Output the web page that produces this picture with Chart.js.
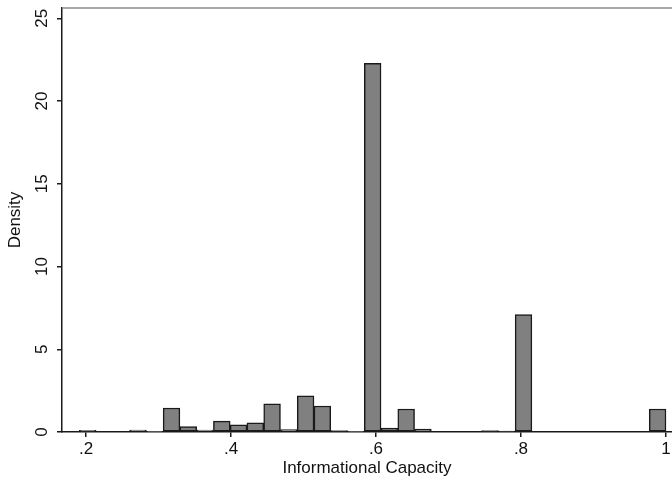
<!DOCTYPE html>
<html>
<head>
<meta charset="utf-8">
<script src="https://cdn.jsdelivr.net/npm/chart.js@4.4.1/dist/chart.umd.min.js"></script>
<style>
  html, body { margin: 0; padding: 0; background: #fff; }
  #wrap { width: 672px; height: 485px; }
</style>
</head>
<body>
<div id="wrap"><canvas id="hist"></canvas></div>
<script>
// histogram bins: first bin start and width, then density per bin (null = empty bin)
const binStart = 0.1908;
const binWidth = 0.02312;
const density = [
  0.1, null, null, 0.12, 0.03, 1.45, 0.32, 0.12, 0.66, 0.44,
  0.56, 1.7, 0.14, 2.19, 1.57, 0.08, 0.03, 22.27, 0.24, 1.39,
  0.17, null, null, null, 0.08, 0.05, 7.1, null, null, null,
  null, null, null, null, 1.39
];
const xTicks = [0.2, 0.4, 0.6, 0.8, 1];
const yTicks = [0, 5, 10, 15, 20, 25];

const fontFamily = '"Liberation Sans", Arial, sans-serif';

function xTickLabel(value) {
  return value === 1 ? '1' : value.toFixed(1).replace(/^0/, '');
}

const points = density.map((d, i) => ({ x: binStart + binWidth * (i + 0.5), y: d }));

const topBorder = {
  id: 'topBorder',
  afterDraw(chart) {
    const { ctx, chartArea } = chart;
    ctx.save();
    ctx.strokeStyle = '#8a8a8a';
    ctx.lineWidth = 1.5;
    ctx.beginPath();
    ctx.moveTo(chartArea.left, chartArea.top);
    ctx.lineTo(chartArea.right, chartArea.top);
    ctx.stroke();
    ctx.restore();
  },
};

new Chart(document.querySelector('#hist'), {
  type: 'bar',
  data: {
    datasets: [
      {
        data: points,
        backgroundColor: '#808080',
        borderColor: '#1a1a1a',
        borderWidth: 1.5,
        borderSkipped: false,
        barPercentage: 1,
        categoryPercentage: 1,
      },
    ],
  },
  options: {
    responsive: true,
    maintainAspectRatio: false,
    animation: false,
    layout: { padding: { top: 8, right: 0, left: 0, bottom: 0 } },
    scales: {
      x: {
        type: 'linear',
        min: 0.1669,
        max: 1.0083,
        offset: false,
        afterBuildTicks: scale => { scale.ticks = xTicks.map(value => ({ value })); },
        afterFit: scale => {
          scale.height = 53;
          scale.paddingLeft = 0;
          scale.paddingRight = 0;
        },
        border: { display: true, color: '#1a1a1a', width: 1.5 },
        grid: { offset: false, drawOnChartArea: false, drawTicks: true, tickLength: 5, color: '#1a1a1a', lineWidth: 1.5 },
        ticks: {
          autoSkip: false,
          maxRotation: 0,
          padding: 2,
          color: '#111',
          font: { family: fontFamily, size: 17 },
          callback: value => xTickLabel(value),
        },
        title: {
          display: true,
          text: 'Informational Capacity',
          color: '#111',
          font: { family: fontFamily, size: 17 },
          padding: { top: 0, bottom: 6 },
        },
      },
      y: {
        min: 0,
        max: 25.62,
        afterBuildTicks: scale => { scale.ticks = yTicks.map(value => ({ value })); },
        afterFit: scale => {
          scale.width = 62;
          scale.paddingTop = 0;
          scale.paddingBottom = 0;
        },
        border: { display: true, color: '#1a1a1a', width: 1.5 },
        grid: { drawOnChartArea: false, drawTicks: true, tickLength: 5, color: '#1a1a1a', lineWidth: 1.5 },
        ticks: {
          minRotation: 90,
          maxRotation: 90,
          crossAlign: 'center',
          padding: 5,
          color: '#111',
          font: { family: fontFamily, size: 17 },
        },
        title: {
          display: true,
          text: 'Density',
          color: '#111',
          font: { family: fontFamily, size: 17 },
          padding: { top: 5, bottom: 0 },
        },
      },
    },
    plugins: {
      legend: { display: false },
      tooltip: { enabled: false },
    },
  },
  plugins: [topBorder],
});
</script>
</body>
</html>
